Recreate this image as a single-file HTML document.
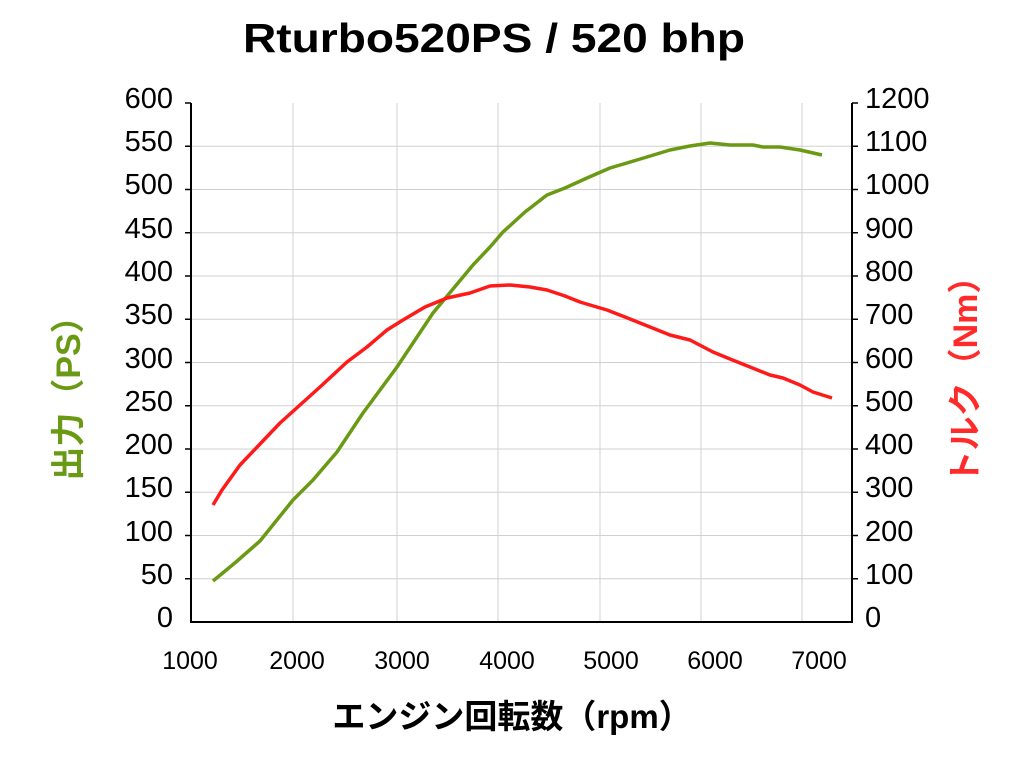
<!DOCTYPE html>
<html><head><meta charset="utf-8"><style>
body{margin:0;background:#fff;width:1024px;height:768px;overflow:hidden}
</style></head><body>
<svg width="1024" height="768" xmlns="http://www.w3.org/2000/svg" font-family="'Liberation Sans','Noto Sans CJK JP',sans-serif">
<text x="494" y="52" font-size="41" font-weight="bold" text-anchor="middle" textLength="502" lengthAdjust="spacingAndGlyphs">Rturbo520PS / 520 bhp</text>
<g stroke="#d0d0d0" stroke-width="1">
<line x1="293" y1="103" x2="293" y2="622"/><line x1="397" y1="103" x2="397" y2="622"/><line x1="498" y1="103" x2="498" y2="622"/><line x1="600" y1="103" x2="600" y2="622"/><line x1="701" y1="103" x2="701" y2="622"/><line x1="802" y1="103" x2="802" y2="622"/>
<line x1="191" y1="146.3" x2="852" y2="146.3"/><line x1="191" y1="189.5" x2="852" y2="189.5"/><line x1="191" y1="232.8" x2="852" y2="232.8"/><line x1="191" y1="276" x2="852" y2="276"/><line x1="191" y1="319.3" x2="852" y2="319.3"/><line x1="191" y1="362.5" x2="852" y2="362.5"/><line x1="191" y1="405.8" x2="852" y2="405.8"/><line x1="191" y1="449" x2="852" y2="449"/><line x1="191" y1="492.3" x2="852" y2="492.3"/><line x1="191" y1="535.5" x2="852" y2="535.5"/><line x1="191" y1="578.8" x2="852" y2="578.8"/>
</g>
<g stroke="#000" stroke-width="2">
<line x1="191" y1="103" x2="191" y2="623"/><line x1="852" y1="103" x2="852" y2="623"/><line x1="190" y1="622" x2="853" y2="622"/>
<path d="M185 103h6M185 146.3h6M185 189.5h6M185 232.8h6M185 276h6M185 319.3h6M185 362.5h6M185 405.8h6M185 449h6M185 492.3h6M185 535.5h6M185 578.8h6M852 103h6M852 146.3h6M852 189.5h6M852 232.8h6M852 276h6M852 319.3h6M852 362.5h6M852 405.8h6M852 449h6M852 492.3h6M852 535.5h6M852 578.8h6" stroke-width="1.5"/>
</g>
<g font-size="29" text-anchor="end">
<text x="173" y="108">600</text><text x="173" y="151">550</text><text x="173" y="194">500</text><text x="173" y="238">450</text><text x="173" y="281">400</text><text x="173" y="324">350</text><text x="173" y="368">300</text><text x="173" y="411">250</text><text x="173" y="454">200</text><text x="173" y="497">150</text><text x="173" y="541">100</text><text x="173" y="584">50</text><text x="173" y="627">0</text>
</g>
<g font-size="29">
<text x="865" y="108">1200</text><text x="865" y="151">1100</text><text x="865" y="194">1000</text><text x="865" y="238">900</text><text x="865" y="281">800</text><text x="865" y="324">700</text><text x="865" y="368">600</text><text x="865" y="411">500</text><text x="865" y="454">400</text><text x="865" y="497">300</text><text x="865" y="541">200</text><text x="865" y="584">100</text><text x="865" y="627">0</text>
</g>
<g font-size="25" text-anchor="middle">
<text x="190" y="669">1000</text><text x="297" y="669">2000</text><text x="402" y="669">3000</text><text x="507" y="669">4000</text><text x="611" y="669">5000</text><text x="715" y="669">6000</text><text x="819" y="669">7000</text>
</g>
<text x="512" y="728" font-size="33" font-weight="bold" text-anchor="middle">エンジン回転数（rpm）</text>
<text transform="translate(80,390) rotate(-90)" font-size="34" font-weight="bold" fill="#6a9a14" text-anchor="middle">出力（PS）</text>
<text transform="translate(977,372) rotate(-90)" font-size="34" font-weight="bold" fill="#ff2a2a" text-anchor="middle">トルク（Nm）</text>
<polyline fill="none" stroke="#6a9a14" stroke-width="3.5" stroke-linejoin="round" points="213,581 236,562 260,541 293,500 313,480 337,452 363,413 397,367 433,313 453,289 473,265 490,247 503,232 525,212 547,195 565,188 587,178 610,168 637,160 670,150 690,146 710,143 730,145 753,145 763,147 780,147 800,150 822,155"/>
<polyline fill="none" stroke="#ff1a1a" stroke-width="3.5" stroke-linejoin="round" points="213,505 222,490 240,465 260,444 280,423 300,405 320,387 347,362 367,347 387,330 403,320 425,307 447,298 470,293 490,286 510,285 530,287 547,290 565,296 580,302 590,305 607,310 625,317 640,323 670,335 690,340 713,352 730,359 750,367 770,375 783,378 800,385 813,392 832,398"/>
</svg>
</body></html>
